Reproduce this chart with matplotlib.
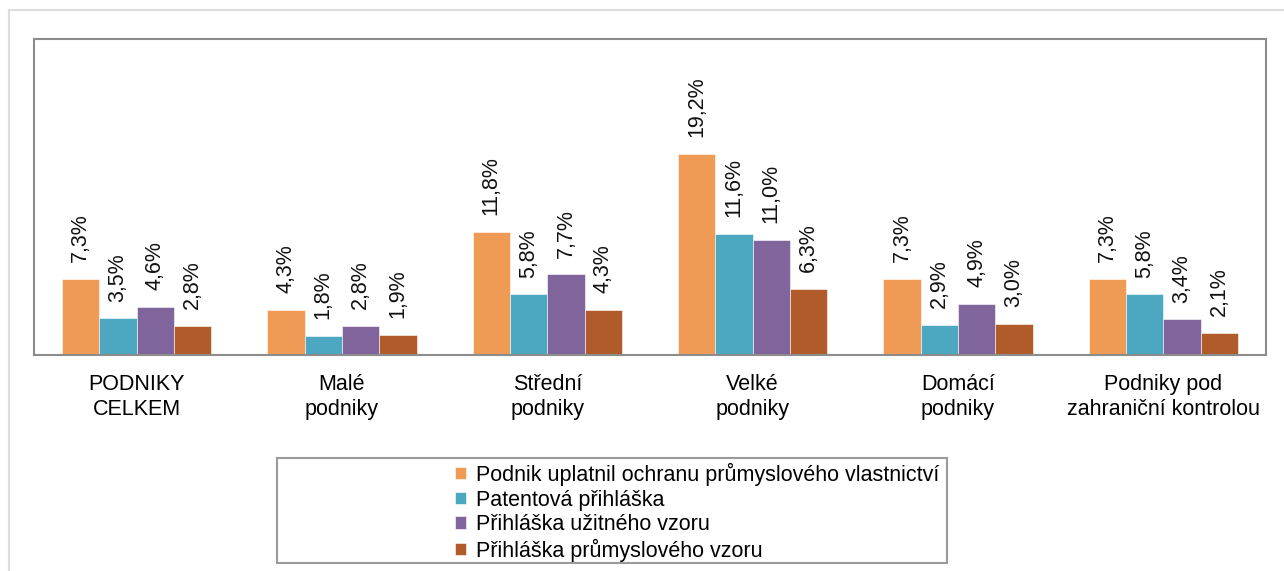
import matplotlib
matplotlib.use("Agg")
import matplotlib.pyplot as plt
import numpy as np
from matplotlib.patches import Rectangle

plt.rcParams['font.family'] = ['Liberation Sans', 'DejaVu Sans']

# data
categories = ['PODNIKY\nCELKEM', 'Malé\npodniky', 'Střední\npodniky', 'Velké\npodniky',
              'Domácí\npodniky', 'Podniky pod\nzahraniční kontrolou']
series = ['Podnik uplatnil ochranu průmyslového vlastnictví',
          'Patentová přihláška',
          'Přihláška užitného vzoru',
          'Přihláška průmyslového vzoru']
ochrana = [7.3, 4.3, 11.8, 19.2, 7.3, 7.3]
patent = [3.5, 1.8, 5.8, 11.6, 2.9, 5.8]
uzitny = [4.6, 2.8, 7.7, 11.0, 4.9, 3.4]
prumyslovy = [2.8, 1.9, 4.3, 6.3, 3.0, 2.1]
colors = ['#EF9A55', '#4CA8C0', '#80659D', '#B05B29']

W, H = 1284, 571
fig = plt.figure(figsize=(W / 100, H / 100), dpi=100)
fig.patch.set_facecolor('white')

# outer light frame
fig.patches.append(Rectangle((9 / W, -0.1), 1.2, 1 - 10 / H + 0.1, transform=fig.transFigure,
                             fill=False, edgecolor='#dddddd', linewidth=1.5))

ax = fig.add_axes([34 / W, (H - 355) / H, 1232 / W, 316 / H])
x = np.arange(len(categories))
bw = 0.182
for i, (vals, col) in enumerate(zip([ochrana, patent, uzitny, prumyslovy], colors)):
    pos = x + (i - 1.5) * bw
    bars = ax.bar(pos, vals, width=bw, color=col, edgecolor='white', linewidth=0.4, label=series[i])
    for b, v in zip(bars, vals):
        ax.annotate(f'{v:.1f}%'.replace('.', ','), (b.get_x() + b.get_width() / 2, v),
                    xytext=(0, 12), textcoords='offset points', rotation=90,
                    ha='center', va='bottom', fontsize=15.5, color='#111111')

ax.set_xlim(-0.5, len(categories) - 0.5)
ax.set_ylim(0, 30.2)
ax.set_yticks([])
ax.set_xticks(x)
ax.set_xticklabels(categories, fontsize=15.5, linespacing=1.22)
ax.tick_params(axis='x', length=0, pad=14)
for s in ax.spines.values():
    s.set_color('#8c8c8c')
    s.set_linewidth(1.5)

# legend box
fig.patches.append(Rectangle((277 / W, (H - 563) / H), 670 / W, 105 / H, transform=fig.transFigure,
                             fill=False, edgecolor='#9a9a9a', linewidth=1.5))
fig.legend(loc='upper left', bbox_to_anchor=(444 / W, (H - 452) / H), frameon=False,
           fontsize=15.5, handlelength=0.5, handleheight=0.5, handletextpad=0.5,
           labelspacing=0.17, borderpad=0)

fig.savefig('out.png', dpi=100)
